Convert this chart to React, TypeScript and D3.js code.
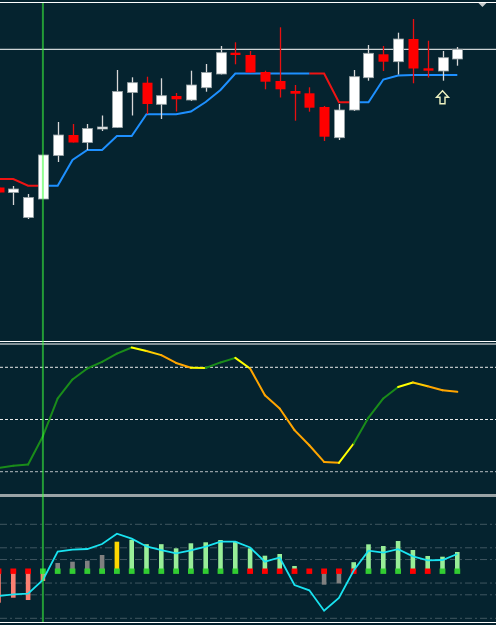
import React from "react";
import * as d3 from "d3";

// ---- Main panel: candles (price) ----
const opens = [1.11545, 1.11495, 1.11245, 1.1143, 1.11865, 1.1207, 1.11995, 1.1213, 1.12145, 1.12495, 1.12593, 1.12377, 1.1246, 1.1242, 1.12543, 1.1268, 1.12893, 1.1287, 1.127, 1.1261, 1.1251, 1.12487, 1.1235, 1.12043, 1.1232, 1.12643, 1.12877, 1.12803, 1.1303, 1.12737, 1.1271, 1.1283];
const highs = [1.1155, 1.1156, 1.1148, 1.1187, 1.122, 1.1218, 1.1218, 1.12265, 1.1272, 1.12647, 1.12653, 1.12637, 1.1249, 1.12713, 1.1278, 1.1296, 1.12997, 1.1291, 1.12713, 1.13147, 1.1257, 1.12547, 1.1236, 1.1238, 1.1272, 1.1297, 1.1296, 1.13093, 1.1323, 1.13013, 1.1291, 1.1295];
const lows = [1.1149, 1.1137, 1.1123, 1.1143, 1.118, 1.11995, 1.1192, 1.1211, 1.1214, 1.12265, 1.1228, 1.1223, 1.12305, 1.1241, 1.12503, 1.12675, 1.12777, 1.12695, 1.12527, 1.12445, 1.12213, 1.12303, 1.1201, 1.1202, 1.1231, 1.12613, 1.1271, 1.12675, 1.12587, 1.12645, 1.12613, 1.12763];
const closes = [1.11495, 1.1153, 1.11445, 1.1187, 1.1207, 1.11995, 1.12135, 1.1215, 1.12505, 1.12593, 1.1238, 1.12463, 1.12427, 1.1257, 1.12695, 1.12893, 1.1287, 1.12695, 1.12603, 1.12527, 1.12483, 1.12343, 1.12053, 1.1232, 1.12653, 1.12887, 1.12803, 1.1303, 1.12735, 1.12713, 1.12843, 1.12927];

// trend stop line: up (blue) and down (red) buffers
const upTrend = [null, null, null, 1.11563, 1.11563, 1.1182, 1.1192, 1.1192, 1.1206, 1.1206, 1.12277, 1.12277, 1.12277, 1.12305, 1.124, 1.1252, 1.12685, 1.12685, 1.12685, 1.12685, 1.12685, 1.12685, null, null, 1.12397, 1.12397, 1.12625, 1.12665, 1.1267, 1.1267, 1.1267, 1.1267];
const downTrend = [1.1163, 1.1163, 1.11563, 1.11563, null, null, null, null, null, null, null, null, null, null, null, null, null, null, null, null, null, 1.12685, 1.12685, 1.12397, 1.12397, null, null, null, null, null, null, null];

const topLinePrice = 1.13395;
const signalIndex = 3; // vertical green line
const arrowIndex = 30;
const arrowPrice = 1.12513;
const shiftMarkerIndex = 32.7;

// ---- Oscillator panel ----
const oscValues = [22.2, 23.4, 24.1, 40.4, 62.1, 73.0, 79.3, 83.1, 87.9, 91.4, 89.4, 87.0, 82.5, 79.7, 79.6, 82.8, 85.4, 79.3, 64.0, 56.3, 43.9, 35.2, 25.6, 25.1, 36.2, 51.1, 62.1, 68.7, 71.3, 69.1, 66.8, 65.9];
// segment colours (i -> i+1): g green, y yellow, a amber, o orange
const oscSegColors = ["g", "g", "g", "g", "g", "g", "g", "g", "g", "y", "a", "o", "o", "y", "g", "g", "y", "o", "o", "o", "o", "o", "o", "y", "g", "g", "g", "y", "a", "o", "o"];
const oscLevels = [80, 50, 20];

// ---- Histogram panel ----
const histBars = [-66.8, -56.2, -61.1, -20.6, 17.7, 20.4, 22.6, 34.7, 63, 67.2, 57.7, 57.7, 48.9, 59.6, 61.7, 66.6, 63, 48.9, 33.2, 36.8, 11.3, 0, -28.5, -26, 19.4, 57.4, 53.8, 64.5, 45.3, 32.6, 31.1, 41.1];
const histBarColors = ["s", "s", "s", "s", "k", "k", "k", "k", "y", "l", "l", "l", "l", "l", "l", "l", "l", "l", "l", "l", "l", "l", "k", "k", "l", "l", "l", "l", "l", "l", "l", "l"];
const histDots = ["r", "r", "r", "g", "g", "g", "g", "g", "g", "g", "g", "g", "g", "g", "g", "g", "g", "r", "r", "r", "r", "r", "r", "r", "r", "g", "g", "g", "r", "r", "g", "g"];
const histLine = [-52.6, -48.9, -47.7, -18.5, 41.7, 46, 47.4, 58.1, 80, 69.4, 52.8, 45.3, 38.3, 44.7, 52.3, 63, 63, 50.6, 20.4, 29.4, -29.1, -40.4, -83.8, -56.4, 1.7, 43.8, 39.6, 47, 31.9, 23.4, 24, 36.8];
const histLevels = [100, 50, 25, -25, -50, -100];

const BG = "#05232f";
const OSC_COL: Record<string, string> = { g: "#1a8c1a", y: "#ffff00", a: "#ffcc00", o: "#ffa500" };
const BAR_COL: Record<string, string> = { s: "#fa8072", k: "#808080", y: "#ffd700", l: "#98ee98" };
const DOT_COL: Record<string, string> = { r: "#ff0000", g: "#32cd32" };

export default function App() {
  const W = 496;
  const H = 625;
  const idx = d3.range(closes.length);

  const x = d3.scaleLinear().domain([0, 31]).range([-1.5, 457.3]);
  const yP = d3.scaleLinear().domain([1.1, 1.1342]).range([342, 0]);
  const yO = d3.scaleLinear().domain([20, 80]).range([471.7, 367.3]);
  const yH = d3.scaleLinear().domain([-100, 100]).range([618.3, 524.3]);

  const trendLine = d3
    .line<number | null>()
    .defined((d) => d != null)
    .x((_, i) => x(i))
    .y((d) => yP(d as number));

  const histLinePath = d3
    .line<number>()
    .x((_, i) => x(i))
    .y((d) => yH(d))(histLine);

  const bodyW = 10;
  const ax = x(arrowIndex);
  const ay = yP(arrowPrice);
  const arrowPath = `M${ax},${ay} L${ax + 6},${ay + 6.5} L${ax + 2.5},${ay + 6.5} L${ax + 2.5},${ay + 13} L${ax - 2.5},${ay + 13} L${ax - 2.5},${ay + 6.5} L${ax - 6},${ay + 6.5} Z`;
  const sx = x(shiftMarkerIndex);

  return (
    <svg width={W} height={H} style={{ position: "absolute", left: 0, top: 0, display: "block" }}>
      <defs>
        <clipPath id="cMain"><rect x={0} y={0} width={W} height={341} /></clipPath>
        <clipPath id="cOsc"><rect x={0} y={345} width={W} height={148} /></clipPath>
        <clipPath id="cHist"><rect x={0} y={498} width={W} height={124} /></clipPath>
      </defs>
      <rect x={0} y={0} width={W} height={H} fill={BG} />

      {/* Main panel */}
      <g clipPath="url(#cMain)">
        <line x1={0} x2={W} y1={yP(topLinePrice)} y2={yP(topLinePrice)} stroke="#ffffff" strokeWidth={1} />
        <line x1={0} x2={W} y1={yP(closes[closes.length - 1])} y2={yP(closes[closes.length - 1])} stroke="#ffffff" strokeWidth={1} />
        <path d={trendLine(downTrend) || ""} fill="none" stroke="#ee1414" strokeWidth={2} />
        <path d={trendLine(upTrend) || ""} fill="none" stroke="#1e90ff" strokeWidth={2} />
        {idx.map((i) => {
          const up = closes[i] >= opens[i];
          const top = yP(Math.max(opens[i], closes[i]));
          const bot = yP(Math.min(opens[i], closes[i]));
          const cx = Math.round(x(i)) + 0.5;
          return (
            <g key={i}>
              <line x1={cx} x2={cx} y1={yP(highs[i])} y2={yP(lows[i])} stroke={up ? "#d8d8d8" : "#e81010"} strokeWidth={1.3} />
              <rect
                x={cx - bodyW / 2}
                y={top}
                width={bodyW}
                height={Math.max(bot - top, 2)}
                fill={up ? "#ffffff" : "#ff0000"}
                stroke={up ? "#9aa4a6" : "none"}
                strokeWidth={up ? 0.8 : 0}
              />
            </g>
          );
        })}
        <path d={arrowPath} fill="none" stroke="#eef2c0" strokeWidth={1.4} />
        <path d={`M${sx - 4},${3} L${sx + 4},${3} L${sx},${7} Z`} fill="#c8cccc" />
      </g>
      {/* separator main / osc */}
      <line x1={0} x2={W} y1={341.5} y2={341.5} stroke="#ffffff" strokeWidth={1} />
      <line x1={0} x2={W} y1={344} y2={344} stroke="#ffffff" strokeWidth={1} />

      {/* Oscillator panel */}
      <g clipPath="url(#cOsc)">
        {oscLevels.map((lv, k) => (
          <line key={lv} x1={0} x2={W} y1={yO(lv)} y2={yO(lv)} stroke={k === 2 ? "#b4bcc0" : "#e8e8e8"} strokeWidth={1} strokeDasharray="3,2" />
        ))}
        {oscSegColors.map((c, i) => (
          <line key={i} x1={x(i)} y1={yO(oscValues[i])} x2={x(i + 1)} y2={yO(oscValues[i + 1])} stroke={OSC_COL[c]} strokeWidth={2} strokeLinecap="round" />
        ))}
      </g>
      {/* separator osc / hist */}
      <rect x={0} y={494} width={W} height={3} fill="#9aa3a6" />

      {/* Histogram panel */}
      <g clipPath="url(#cHist)">
        {histLevels.map((lv) => (
          <line key={lv} x1={0} x2={W} y1={yH(lv)} y2={yH(lv)} stroke="#3f5660" strokeWidth={1} strokeDasharray="7,3,2,3" />
        ))}
        {idx.map((i) =>
          histBars[i] !== 0 ? (
            <rect
              key={"b" + i}
              x={x(i) - 2.3}
              y={Math.min(yH(0), yH(histBars[i]))}
              width={4.6}
              height={Math.abs(yH(histBars[i]) - yH(0))}
              fill={BAR_COL[histBarColors[i]]}
            />
          ) : null
        )}
        {idx.map((i) => (
          <rect key={"d" + i} x={x(i) - 2.9} y={yH(0) - 2.8} width={5.8} height={5.4} fill={DOT_COL[histDots[i]]} />
        ))}
        <path d={histLinePath || ""} fill="none" stroke="#19e3f0" strokeWidth={1.8} />
      </g>
      <line x1={0} x2={W} y1={622.5} y2={622.5} stroke="#ffffff" strokeWidth={1} />

      {/* Signal vertical line */}
      <line x1={x(signalIndex)} x2={x(signalIndex)} y1={3} y2={622} stroke="#3cff3c" strokeOpacity={0.55} strokeWidth={2} />
    </svg>
  );
}
